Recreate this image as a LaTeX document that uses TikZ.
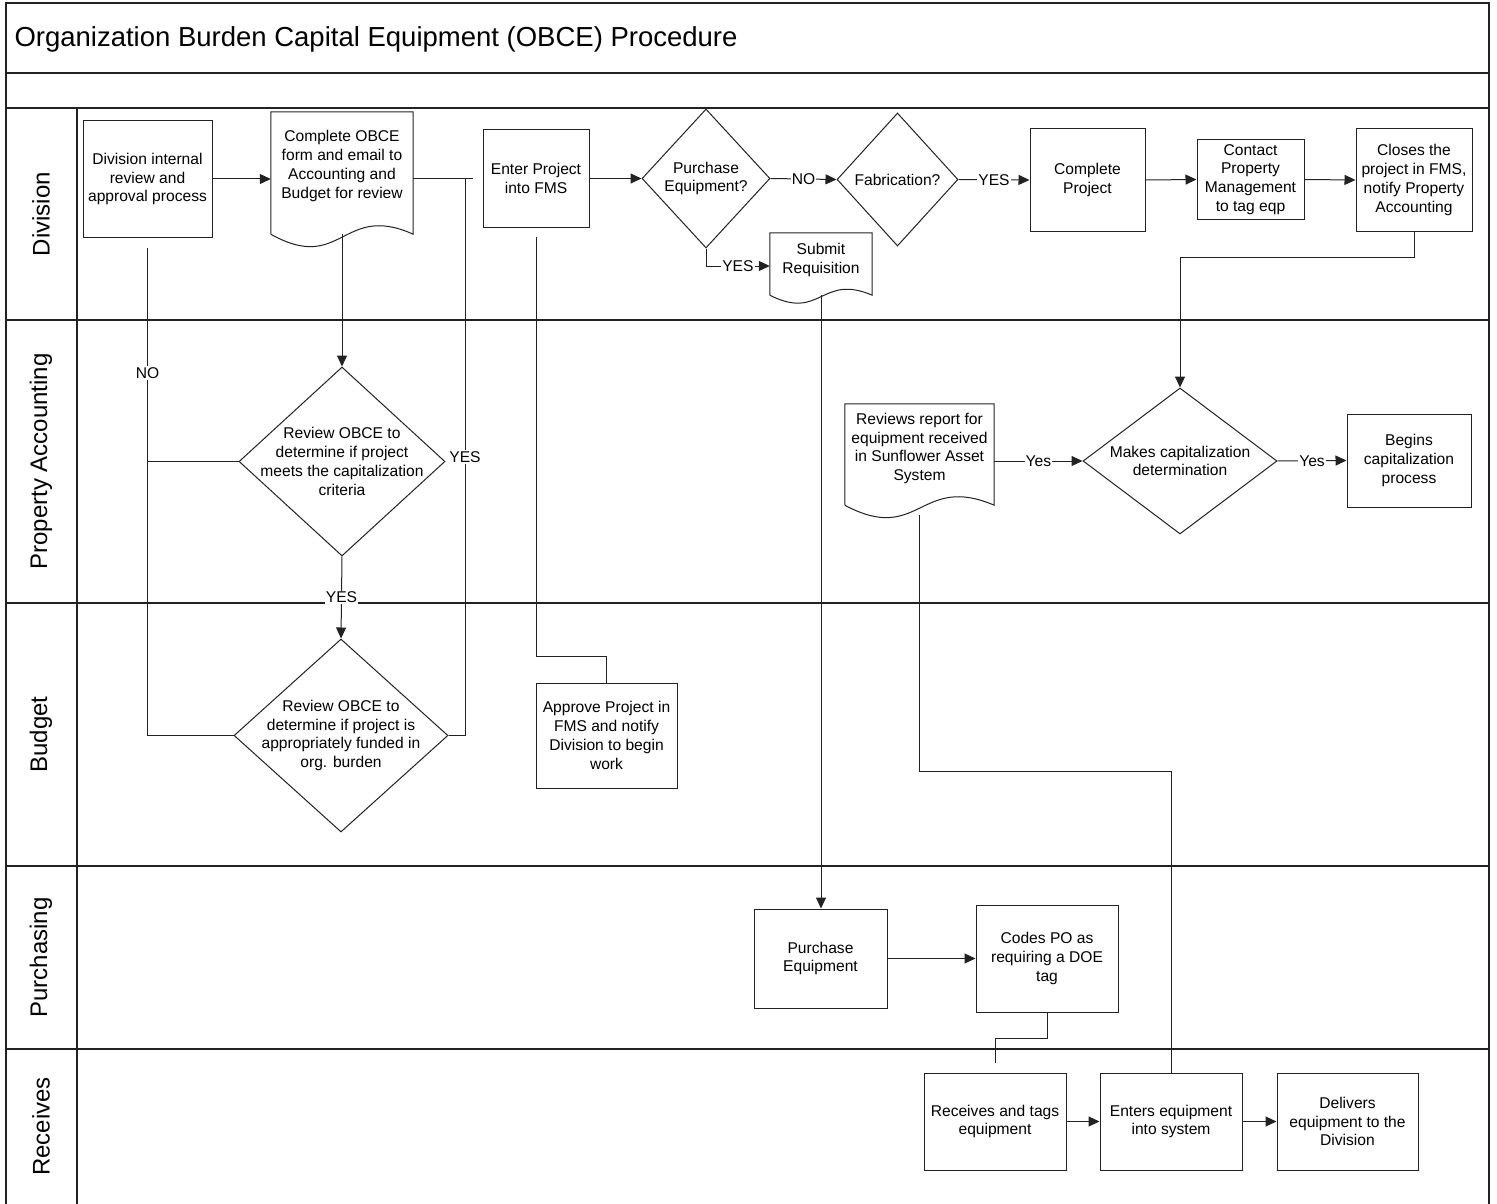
\documentclass[tikz,border=0pt]{standalone}
\usepackage{fontspec}
\setmainfont{Liberation Sans}
\usetikzlibrary{shapes.geometric,arrows.meta,calc}
\definecolor{lc}{HTML}{222222}
\newcommand\nf{\fontsize{15.6}{18.8}\selectfont}
\begin{document}
\begin{tikzpicture}[x=1pt,y=-1pt,
  every node/.style={font=\nf},
  box/.style={draw=lc, line width=1pt, rectangle, inner sep=1pt, align=center},
  docn/.style={inner sep=0pt},
  dia/.style={draw=lc, line width=1pt, diamond, inner sep=0pt},
  lane/.style={line width=1.4pt, draw=lc},
  con/.style={line width=1pt, draw=lc},
  arr/.style={con, -{Triangle[length=11pt,width=10pt]}},
  lbl/.style={fill=white, inner sep=1pt},
  lanelbl/.style={rotate=90, font=\fontsize{24}{28}\selectfont}
]
\useasboundingbox (0,0) rectangle (1497,1204);
\fill[white] (0,0) rectangle (1497,1204);

% frame and lanes
\draw[lane] (6,1204) -- (6,3) -- (1489,3) -- (1489,1204);
\foreach \yy in {73,108,320,603,866,1049} \draw[lane] (6,\yy) -- (1489,\yy);
\draw[lane] (77,108) -- (77,1204);

\node[anchor=base west, font=\fontsize{27.5}{33}\selectfont] (title) at (11,46.5) {Organization Burden Capital Equipment (OBCE) Procedure};

\node[lanelbl] (lDiv) at (41,214) {Division};
\node[lanelbl] (lPA) at (41,461.5) {Property Accounting};
\node[lanelbl] (lBud) at (41,734.5) {Budget};
\node[lanelbl] (lPur) at (41,957.5) {Purchasing};
\node[lanelbl] (lRec) at (41,1126.5) {Receives};

% Division lane
\node[box, minimum width=129pt, minimum height=116pt] (b1) at (147.5,179) {Division internal\\review and\\approval process};
\node[docn, minimum width=142pt, minimum height=122pt, label={[align=center,yshift=7pt]center:Complete OBCE\\form and email to\\Accounting and\\Budget for review}] (doc2) at (342,173) {};
\node[box, minimum width=106pt, minimum height=97pt] (enter) at (536,178.5) {Enter Project\\into FMS};
\node[dia, minimum width=128pt, minimum height=139pt, label={[align=center]center:Purchase\\Equipment?}] (pd) at (706,178.5) {};
\node[dia, minimum width=121pt, minimum height=133pt, label={[align=center]center:Fabrication?}] (fab) at (897.5,179.5) {};
\node[box, minimum width=115pt, minimum height=102pt] (complete) at (1087.5,180) {Complete\\Project};
\node[box, minimum width=107pt, minimum height=79pt] (contact) at (1250.5,179.5) {Contact\\Property\\Management\\to tag eqp};
\node[box, minimum width=116pt, minimum height=102pt] (closes) at (1414,180) {Closes the\\project in FMS,\\notify Property\\Accounting};
\node[docn, minimum width=102pt, minimum height=62pt, label={[align=center,yshift=4pt]center:Submit\\Requisition}] (sub) at (821,264) {};

% Property Accounting lane
\node[dia, minimum width=206pt, minimum height=189pt, label={[align=center]center:Review OBCE to\\determine if project\\meets the capitalization\\criteria}] (pa) at (342,461.5) {};
\node[docn, minimum width=149pt, minimum height=101pt, label={[align=center,yshift=6pt]center:Reviews report for\\equipment received\\in Sunflower Asset\\System}] (rev) at (919.5,454.5) {};
\node[dia, minimum width=194pt, minimum height=146pt, label={[align=center]center:Makes capitalization\\determination}] (mk) at (1180,461) {};
\node[box, minimum width=124pt, minimum height=93pt] (begins) at (1409,460.5) {Begins\\capitalization\\process};

% Budget lane
\node[dia, minimum width=214pt, minimum height=193pt, label={[align=center]center:Review OBCE to\\determine if project is\\appropriately funded in\\org. burden}] (bud) at (341,735.5) {};
\node[box, minimum width=141pt, minimum height=105pt] (approve) at (606.5,735.5) {Approve Project in\\FMS and notify\\Division to begin\\work};

% Purchasing lane
\node[box, minimum width=133pt, minimum height=99pt] (purchase) at (820.5,958.5) {Purchase\\Equipment};
\node[box, minimum width=142pt, minimum height=107pt] (codes) at (1047,958.5) {Codes PO as\\requiring a DOE\\tag};

% Receives lane
\node[box, minimum width=142pt, minimum height=97pt] (receives) at (995,1121.5) {Receives and tags\\equipment};
\node[box, minimum width=142pt, minimum height=97pt] (enters) at (1171,1121.5) {Enters equipment\\into system};
\node[box, minimum width=141pt, minimum height=97pt] (delivers) at (1347.5,1121.5) {Delivers\\equipment to the\\Division};

% document outlines
\foreach \dn/\ta/\tb in {doc2/40/32, sub/26/22, rev/40/32} {
  \draw[con] (\dn.south west) -- (\dn.north west) -- (\dn.north east) -- (\dn.south east)
    .. controls ($(\dn.south)+(0,-\tb)$) and ($(\dn.south)+(0,\ta)$) .. (\dn.south west);
}

% connectors
\draw[arr] (b1.east) -- (b1.east -| doc2.west);
\draw[con] (enter.west -| doc2.east) -- ([xshift=-10pt]enter.west);
\coordinate (jy) at (465,178.5);
\draw[con] (bud.east) -| (jy);
\node[lbl] (lyes1) at (465,457) {YES};
\draw[arr] (doc2.south) -- (pa.north);
\draw[con] (pa.west) -| ([yshift=-10pt]b1.south);
\draw[con] (bud.west) -| ([yshift=-10pt]b1.south);
\node[lbl] (lno1) at (147.5,373) {NO};
\draw[arr] (pa.south) -- node[lbl] (lyes2) {YES} (bud.north);
\draw[con] ([yshift=-9pt]enter.south) -- ++(0,420) -| (approve.north);
\draw[arr] (enter.east) -- (pd.west);
\draw[arr] (pd.east) -- node[lbl] (lno3) {NO} (fab.west);
\draw[arr] (pd.south) |- node[lbl, pos=0.75] (lyes3) {YES} ([yshift=-2pt]sub.west);
\draw[arr] (fab.east) -- node[lbl] (lyes4) {YES} (complete.west);
\draw[arr] (complete.east) -- (contact.west);
\draw[arr] (contact.east) -- (closes.west);
\draw[arr] (closes.south) -- ++(0,26) -| (mk.north);
\draw[arr] (sub.south) -- (sub.south |- purchase.north);
\draw[arr] (purchase.east) -- (codes.west);
\draw[con] (codes.south) -- ++(0,26) -| ([yshift=10pt]receives.north);
\draw[arr] (receives.east) -- (enters.west);
\draw[arr] (enters.east) -- (delivers.west);
\draw[con] ([yshift=-10pt]rev.south) -- ++(0,256) -| (enters.north);
\draw[arr] (rev.east |- mk.west) -- node[lbl] (lyes5) {Yes} (mk.west);
\draw[arr] (mk.east) -- node[lbl] (lyes6) {Yes} (begins.west);
\end{tikzpicture}
\end{document}
